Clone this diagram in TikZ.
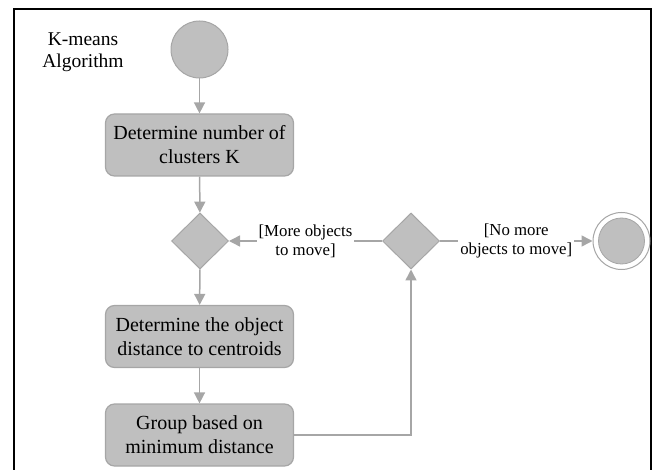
\documentclass[tikz,border=0pt]{standalone}
\usepackage{fontspec}
\setmainfont{Liberation Serif}
\usetikzlibrary{arrows.meta, shapes.geometric}
\definecolor{actfill}{HTML}{BFBFBF}
\definecolor{actline}{HTML}{A6A6A6}
\begin{document}
\begin{tikzpicture}[x=1pt, y=-1pt,
    actbox/.style={draw=actline, fill=actfill, line width=1.2pt, rounded corners=9pt,
      minimum width=188pt, minimum height=62pt, align=center, inner sep=2pt,
      font=\fontsize{20}{24}\selectfont},
    decide/.style={diamond, draw=actline, fill=actfill, line width=1pt,
      minimum width=57pt, minimum height=56pt, inner sep=0pt},
    flow/.style={draw=actline, line width=1.5pt, -{Triangle[length=11pt, width=11pt]}},
    guard/.style={fill=white, align=center, inner sep=2pt,
      font=\fontsize{16.8}{19}\selectfont}]
      \useasboundingbox (0,0) rectangle (653,470);
      %\draw[help lines] (0,0) grid[step=50] (653,470);
      \draw[line width=2.8pt] (14,472) -- (14,9) -- (651,9) -- (651,472);

      \node[align=center, font=\fontsize{19.5}{22.5}\selectfont] (title) at (83,52) {K-means\\Algorithm};

      \node[circle, draw=actline, fill=actfill, line width=1pt, minimum size=57pt, inner sep=0pt] (start) at (199.5,49.5) {};
      \node[actbox] (nclust) at (199.5,145) {Determine number of\\clusters K};
      \node[decide] (merge) at (200,241) {};
      \node[decide] (check) at (411,241) {};
      \node[circle, draw=actline, fill=white, line width=1pt, minimum size=57pt, inner sep=0pt] (stop) at (621.5,241) {};
      \node[circle, fill=actfill, draw=actline, line width=0.8pt, minimum size=46pt, inner sep=0pt] (stopin) at (stop) {};
      \node[actbox] (dist) at (199.5,336.5) {Determine the object\\distance to centroids};
      \node[actbox] (group) at (199.5,435) {Group based on\\minimum distance};

      \draw[flow] (start) -- (nclust);
      \draw[flow] (nclust) -- (merge);
      \draw[flow] (merge) -- (dist);
      \draw[flow] (dist) -- (group);
      \draw[flow] (group.east) -| (check.south);
      \draw[flow] (check) -- node[guard] (more) {[More objects\\to move]} (merge);
      \draw[flow] (check) -- node[guard] (nomore) {[No more\\objects to move]} (stop);
    \end{tikzpicture}
\end{document}
